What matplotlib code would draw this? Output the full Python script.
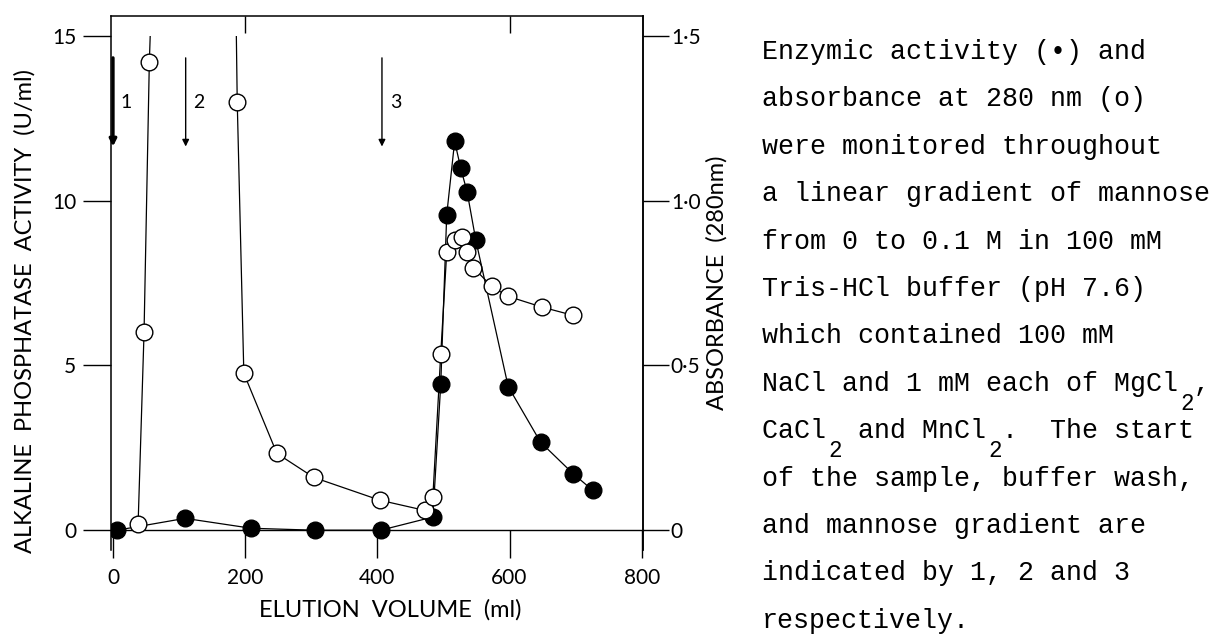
import matplotlib
matplotlib.use("Agg")
import matplotlib.pyplot as plt
from matplotlib.patches import Rectangle

# Elution volume (ml) vs alkaline phosphatase activity (U/ml), filled circles
ACT_VOL = [6, 109, 209, 306, 405, 484, 496, 505, 517, 526, 536, 549, 598, 647, 696, 726]
ACT_VAL = [0.0, 0.36, 0.06, 0.0, 0.0, 0.40, 4.45, 9.57, 11.8, 11.0, 10.25, 8.8, 4.36, 2.67, 1.72, 1.21]

# Elution volume (ml) vs absorbance at 280 nm, open circles.
# 1.6 stands for readings that ran off the top of the scale.
ABS_VOL = [38, 47, 55, 58, 186, 188, 198, 248, 304, 404, 472, 484, 496,
           505, 517, 528, 535, 545, 573, 597, 649, 696]
ABS_VAL = [0.018, 0.60, 1.42, 1.60, 1.60, 1.30, 0.476, 0.233, 0.160, 0.091, 0.060, 0.100, 0.536,
           0.843, 0.880, 0.890, 0.843, 0.797, 0.740, 0.710, 0.677, 0.652]
ABS_TOP = 1.5

# sample start, buffer wash, mannose gradient
ARROW_VOL = [0, 110, 407]
ARROW_LABELS = ["1", "2", "3"]
ARROW_TOP, ARROW_TIP = 14.33, 11.64

X_TICKS = [0, 200, 400, 600, 800]
TOP_TICKS = [200, 600]
ACT_TICKS = [0, 5, 10, 15]
ABS_TICKS = [0, 0.5, 1.0, 1.5]
ABS_TICK_LABELS = ["0", "0·5", "1·0", "1·5"]

# typed legend; blanks leave room for the lowered subscripts
CAPTION = [
    "Enzymic activity (\u2022) and",
    "absorbance at 280 nm (o)",
    "were monitored throughout",
    "a linear gradient of mannose",
    "from 0 to 0.1 M in 100 mM",
    "Tris-HCl buffer (pH 7.6)",
    "which contained 100 mM",
    "NaCl and 1 mM each of MgCl ,",
    "CaCl  and MnCl .  The start",
    "of the sample, buffer wash,",
    "and mannose gradient are",
    "indicated by 1, 2 and 3",
    "respectively.",
]
# (line, column) of each subscript 2
SUBSCRIPTS = [(7, 26), (8, 4), (8, 14)]

W, H, DPI = 1212, 634, 100
SANS = ["Lato", "DejaVu Sans"]
MONO = ["Liberation Mono", "DejaVu Sans Mono"]

fig = plt.figure(figsize=(W / DPI, H / DPI), dpi=DPI)
ax = fig.add_axes([111 / W, 1 - 550 / H, 532 / W, 534 / H])
ax2 = ax.twinx()

ax.set_xlim(-3, 802)
ax.set_ylim(-0.6, 15.6)
ax2.set_ylim(-0.06, 1.56)

lw = 0.9
ax.plot(ACT_VOL, ACT_VAL, color="black", lw=lw, marker="o", ms=12,
        mfc="black", mec="black", zorder=3)

line, = ax2.plot(ABS_VOL, ABS_VAL, color="black", lw=lw, marker="o", ms=12,
                 mfc="white", mec="black", mew=1.0, zorder=3)
clip = Rectangle((-100, -1), 1100, 1 + ABS_TOP, transform=ax2.transData)
line.set_clip_path(clip)

for vol, lab in zip(ARROW_VOL, ARROW_LABELS):
    heavy = lab == "1"
    ax.annotate("", xy=(vol, ARROW_TIP), xytext=(vol, ARROW_TOP),
                arrowprops=dict(arrowstyle="-|>", color="black",
                                lw=2.4 if heavy else 1.0, mutation_scale=10,
                                shrinkA=0, shrinkB=0))
    ax.text(vol + 12, 12.97, lab, ha="left", va="center", fontsize=14,
            family=SANS)

# axes frame: bottom axis sits on the zero line, ticks cut through it
for sp in ["top", "left", "right"]:
    ax.spines[sp].set_linewidth(1.1)
ax.spines["bottom"].set_position(("data", 0))
ax.spines["bottom"].set_linewidth(1.0)
for sp in ["top", "left", "bottom"]:
    ax2.spines[sp].set_visible(False)
ax2.spines["right"].set_linewidth(1.1)

ax.set_xticks(X_TICKS)
ax.set_xticklabels([str(v) for v in X_TICKS])
ax.set_yticks(ACT_TICKS)
ax.set_yticklabels([str(v) for v in ACT_TICKS])
ax.tick_params(axis="x", direction="out", length=20, width=1.0, pad=7, labelsize=15)
ax.tick_params(axis="y", direction="out", length=20, width=1.0, pad=5, labelsize=15)

ax2.set_yticks(ABS_TICKS)
ax2.set_yticklabels(ABS_TICK_LABELS)
ax2.tick_params(axis="y", direction="out", length=19, width=1.0, pad=1, labelsize=15)

top = ax.secondary_xaxis("top")
top.set_xticks(TOP_TICKS)
top.set_xticklabels([])
top.tick_params(direction="in", length=12, width=1.0)
top.spines["top"].set_visible(False)

for lab in ax.get_xticklabels() + ax.get_yticklabels() + ax2.get_yticklabels():
    lab.set_family(SANS)

fig.text(25 / W, 1 - 311 / H, "ALKALINE  PHOSPHATASE  ACTIVITY  (U/ml)", rotation=90,
         ha="center", va="center", fontsize=17, family=SANS)
fig.text(717 / W, 1 - 283 / H, "ABSORBANCE  (280nm)", rotation=90,
         ha="center", va="center", fontsize=17, family=SANS)
fig.text(390 / W, 1 - 610 / H, "ELUTION  VOLUME  (ml)",
         ha="center", va="center", fontsize=17, family=SANS)

# typed caption, one line per row; subscripts placed by character column
cap_size = 19.2
char_w = 0.6 * cap_size * DPI / 72
x0, base0, step = 762, 59, 47.4
for i, text in enumerate(CAPTION):
    fig.text(x0 / W, 1 - (base0 + i * step) / H, text, ha="left", va="baseline",
             fontsize=cap_size, family=MONO)
for row, col in SUBSCRIPTS:
    fig.text((x0 + col * char_w + 2) / W, 1 - (base0 + row * step + 19) / H, "2",
             ha="left", va="baseline", fontsize=cap_size * 0.85, family=MONO)

fig.savefig("out.png", dpi=DPI)
